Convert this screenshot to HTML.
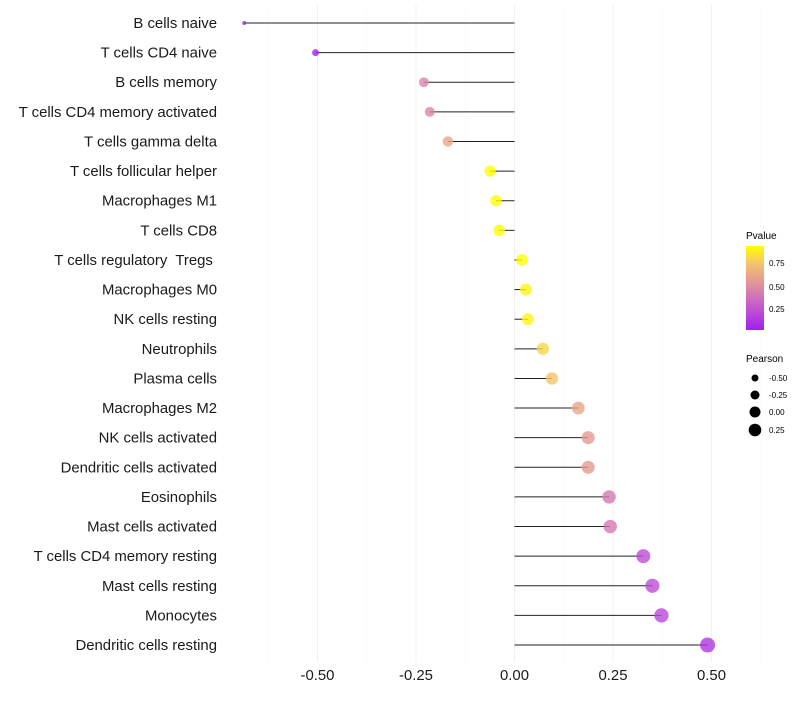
<!DOCTYPE html>
<html><head><meta charset="utf-8"><style>
body{margin:0;background:#fff;font-family:"Liberation Sans",sans-serif}
text{white-space:pre}
</style></head><body>
<svg id="chart" width="800" height="700" xmlns="http://www.w3.org/2000/svg" font-family="Liberation Sans, sans-serif">
<defs><linearGradient id="pg" x1="0" y1="1" x2="0" y2="0">
<stop offset="0" stop-color="#a020f0"/><stop offset="0.27" stop-color="#c457d0"/><stop offset="0.54" stop-color="#e0909c"/><stop offset="0.8" stop-color="#f5c46a"/><stop offset="1" stop-color="#ffff00"/></linearGradient></defs>
<g id="grid"></g><g id="marks"></g><g id="labels"></g><g id="xticks"></g>
<g>
<text x="746" y="239" font-size="10">Pvalue</text>
<rect x="746" y="246" width="18" height="84" fill="url(#pg)"/>
<text x="769" y="266" font-size="8">0.75</text><text x="769" y="290" font-size="8">0.50</text><text x="769" y="312" font-size="8">0.25</text>
</g>
<g>
<text x="746" y="362" font-size="10">Pearson</text>
<circle cx="755" cy="378" r="3.5"/><text x="769" y="381" font-size="8">-0.50</text>
<circle cx="755" cy="395" r="4.5"/><text x="769" y="398" font-size="8">-0.25</text>
<circle cx="755" cy="412" r="5.5"/><text x="769" y="415" font-size="8">0.00</text>
<circle cx="755" cy="430" r="6.3"/><text x="769" y="433" font-size="8">0.25</text>
</g>
</svg>
<script>
const categories=["B cells naive","T cells CD4 naive","B cells memory","T cells CD4 memory activated","T cells gamma delta","T cells follicular helper","Macrophages M1","T cells CD8","T cells regulatory  Tregs ","Macrophages M0","NK cells resting","Neutrophils","Plasma cells","Macrophages M2","NK cells activated","Dendritic cells activated","Eosinophils","Mast cells activated","T cells CD4 memory resting","Mast cells resting","Monocytes","Dendritic cells resting"];
const pearson=[-0.686,-0.505,-0.23,-0.215,-0.169,-0.062,-0.047,-0.039,0.019,0.029,0.034,0.072,0.095,0.162,0.187,0.187,0.24,0.243,0.327,0.35,0.373,0.49];
const pvalue=[0.0,0.02,0.45,0.45,0.6,0.93,0.92,0.93,0.92,0.9,0.9,0.8,0.75,0.6,0.55,0.55,0.4,0.4,0.2,0.2,0.18,0.1];
const xTicks=[-0.5,-0.25,0,0.25,0.5];
const xTickLabels=["-0.50","-0.25","0.00","0.25","0.50"];
const NS="http://www.w3.org/2000/svg";
const x=v=>514.5+v*394;
const y=i=>23+i*29.62;
const r=v=>Math.sqrt(4+Math.max(0,v+0.686)*44.4);
const stops=[[0,[160,32,240]],[0.27,[196,87,208]],[0.54,[224,144,156]],[0.8,[245,196,106]],[1,[255,255,0]]];
function col(p){p=Math.min(1,Math.max(0,p/0.93));for(let k=1;k<stops.length;k++){if(p<=stops[k][0]){const a=stops[k-1],b=stops[k],t=(p-a[0])/(b[0]-a[0]);return "rgb("+a[1].map((c,j)=>Math.round(c+(b[1][j]-c)*t)).join(",")+")";}}return "rgb(255,255,0)";}
function mk(t,a,p){const e=document.createElementNS(NS,t);for(const k in a)e.setAttribute(k,a[k]);p.appendChild(e);return e;}
const grid=document.getElementById('grid');
for(let v=-0.625;v<=0.7;v+=0.125){const maj=Math.abs(v*4-Math.round(v*4))<1e-6;const g=mk('line',{x1:x(v),x2:x(v),y1:5,y2:662,stroke:maj?'#f0f0f0':'#f7f7f7','stroke-width':maj?1:0.6},grid);

}
const marks=document.getElementById('marks'),labels=document.getElementById('labels'),xt=document.getElementById('xticks');
categories.forEach((c,i)=>{
const l=mk('line',{x1:x(0),x2:x(pearson[i]),y1:y(i),y2:y(i),stroke:'#222','stroke-width':1},marks);


const p=mk('circle',{cx:x(pearson[i]),cy:y(i),r:r(pearson[i]),fill:col(pvalue[i]),'fill-opacity':0.8},marks);


const t=mk('text',{x:217,y:y(i)+5,'text-anchor':'end','font-size':14.9,fill:'#1a1a1a'},labels);t.textContent=c;


});
xTicks.forEach((v,i)=>{const t=mk('text',{x:x(v),y:680,'text-anchor':'middle','font-size':14.9,fill:'#1a1a1a'},xt);t.textContent=xTickLabels[i];

});
</script>
</body></html>
